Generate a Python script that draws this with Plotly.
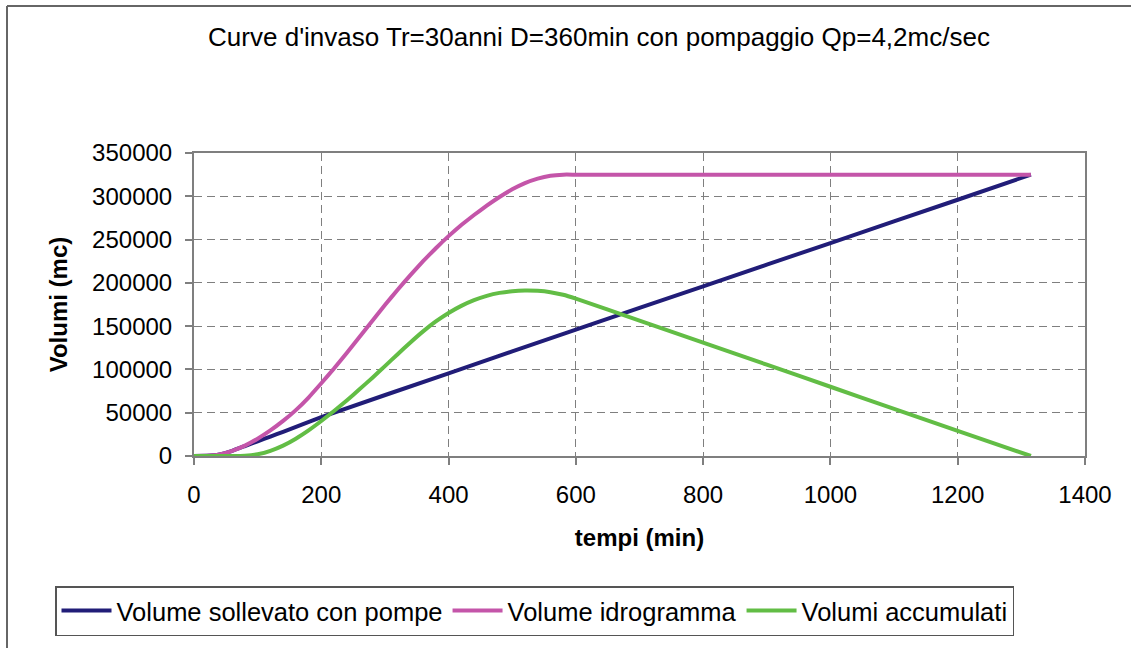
import plotly.graph_objects as go

# --- data ---
t_pompe = [0, 20, 40, 60, 80, 100, 120, 140, 200, 400, 600, 800, 1000, 1200, 1315]
v_pompe = [0, 200, 1800, 6000, 11500, 17000, 22500, 28000, 45000, 95500, 146000, 196000,
           246000, 296000, 325000]

t_idro = [0, 20, 40, 60, 80, 100, 120, 140, 160, 180, 200, 220, 240, 260, 280, 300,
          320, 340, 360, 380, 400, 420, 440, 460, 480, 500, 520, 540, 560, 580, 600, 1315]
v_idro = [0, 200, 1800, 6000, 12000, 20000, 29500, 40500, 53000, 67500, 84000, 101000,
          119000, 137500, 156000, 174500, 192000, 209000, 225000, 240000, 254000, 266800,
          278400, 289200, 299200, 308000, 315200, 320400, 323700, 325000, 325000, 325000]

t_acc = [0, 20, 40, 60, 80, 100, 120, 140, 160, 180, 200, 220, 240, 260, 280, 300, 320,
         340, 360, 380, 400, 420, 440, 460, 480, 500, 520, 540, 560, 580, 600, 700, 800,
         900, 1000, 1100, 1200, 1315]
v_acc = [0, 0, 0, 0, 300, 2000, 6000, 12000, 20000, 29600, 40400, 52000, 64200, 77000,
         90200, 103800, 117600, 131200, 144000, 155400, 165200, 173400, 180000, 185000,
         188400, 190400, 191200, 190800, 189200, 186200, 181800, 156500, 131000, 105500,
         80000, 54500, 29000, 0]

names = ["Volume sollevato con pompe", "Volume idrogramma", "Volumi accumulati"]
colors = ["#211D78", "#C455A9", "#62BD45"]

title_text = "Curve d'invaso Tr=30anni D=360min con pompaggio Qp=4,2mc/sec"
x_title = "tempi (min)"
y_title = "Volumi (mc)"

FONT = "Liberation Sans, Arial, sans-serif"

fig = go.Figure()
for tt, vv, nm, col in zip([t_pompe, t_idro, t_acc], [v_pompe, v_idro, v_acc], names, colors):
    fig.add_trace(go.Scatter(x=tt, y=vv, mode="lines", name=nm,
                             line=dict(color=col, width=4, shape="spline", smoothing=0.3)))

W, H = 1131, 648
L, R, T, B = 194, 46, 153, 192
pw, ph = W - L - R, H - T - B

def px(x):
    return (x - L) / pw

def py(y):
    return (H - B - y) / ph

fig.update_layout(
    width=W, height=H, autosize=False,
    margin=dict(l=L, r=R, t=T, b=B, pad=0),
    paper_bgcolor="white", plot_bgcolor="white",
    font=dict(family=FONT, size=24, color="black"),
    title=dict(text=title_text, x=(599 / W), xanchor="center",
               y=1 - 37 / H, yanchor="middle", yref="container",
               font=dict(size=26, color="black", family=FONT)),
    xaxis=dict(range=[0, 1400], dtick=200, tick0=0,
               showgrid=True, gridcolor="#7f7f7f", griddash="8px,5px", gridwidth=1,
               showline=True, linecolor="#7f7f7f", linewidth=2, mirror=True,
               ticks="outside", ticklen=7, tickcolor="#7f7f7f", tickwidth=1.5,
               ticklabelstandoff=9,
               zeroline=False,
               title=dict(text="<b>" + x_title + "</b>", standoff=22,
                          font=dict(size=24, family=FONT))),
    yaxis=dict(range=[0, 350000], dtick=50000, tick0=0,
               showgrid=True, gridcolor="#7f7f7f", griddash="8px,5px", gridwidth=1,
               showline=True, linecolor="#7f7f7f", linewidth=2, mirror=True,
               ticks="outside", ticklen=7, tickcolor="#7f7f7f", tickwidth=1.5,
               ticklabelstandoff=8, tickformat="d",
               zeroline=False,
               title=dict(text="<b>" + y_title + "</b>", standoff=18,
                          font=dict(size=24, family=FONT))),
    legend=dict(orientation="h", x=px(55), y=py(586), xanchor="left", yanchor="top",
                bordercolor="#555555", borderwidth=1.5, bgcolor="white",
                font=dict(size=25.5, family=FONT), itemwidth=50,
                tracegroupgap=0),
    showlegend=True,
)

# outer chart frame (top and left edges visible in the reference)
fig.add_shape(type="line", xref="paper", yref="paper",
              x0=px(7), y0=py(6), x1=px(W), y1=py(6),
              line=dict(color="#666666", width=2))
fig.add_shape(type="line", xref="paper", yref="paper",
              x0=px(7), y0=py(6), x1=px(7), y1=py(H),
              line=dict(color="#666666", width=2))

fig.write_html("out.html")
